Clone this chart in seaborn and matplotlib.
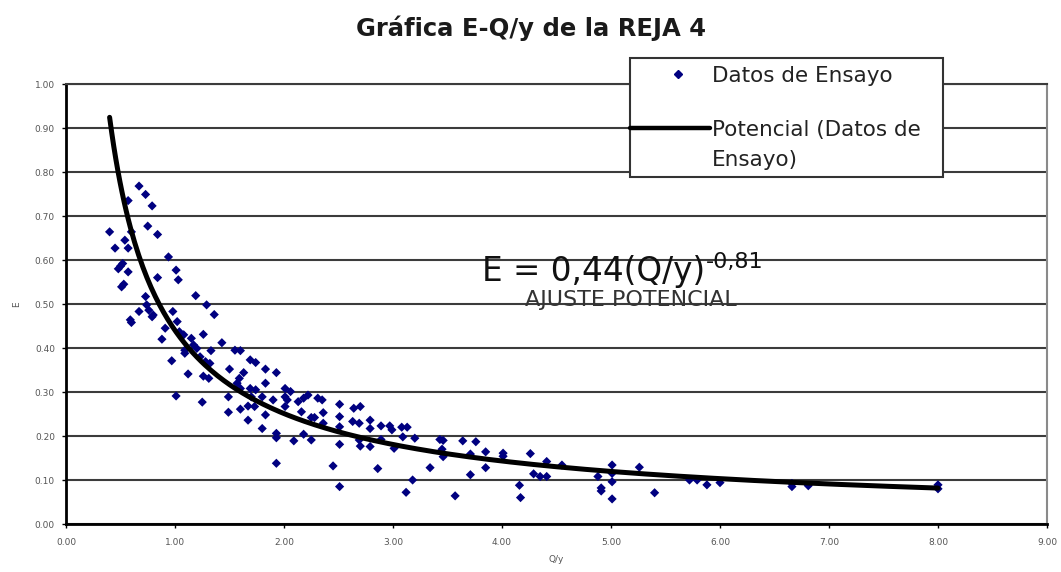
import numpy as np
import pandas as pd
import matplotlib
matplotlib.use("Agg")
import matplotlib.pyplot as plt
import seaborn as sns
from matplotlib.lines import Line2D
from matplotlib.patches import Rectangle
from matplotlib.ticker import FormatStrFormatter

# Test data: relative flow Q/y against efficiency E for screen no. 4
q_over_y = [
    0.40, 0.45, 0.48, 0.50, 0.52, 0.54, 0.57, 0.57, 0.57, 0.60,
    0.51, 0.53, 0.67, 0.73, 0.79, 0.75, 0.84, 0.94, 1.01, 1.03,
    0.84, 1.19, 1.29, 1.36, 0.73, 0.74, 0.76, 0.67, 0.80, 0.79,
    0.59, 0.60, 0.98, 1.02, 0.91, 1.04, 1.08, 1.26, 0.88, 1.15,
    1.17, 1.20, 1.09, 1.09, 1.33, 1.43, 1.23, 1.28, 1.32, 0.97,
    1.55, 1.60, 1.69, 1.74, 1.50, 1.83, 1.93, 1.12, 1.26, 1.31,
    1.63, 1.59, 1.57, 1.83, 1.60, 1.69, 1.74, 2.01, 2.06, 1.49,
    1.70, 1.80, 1.90, 2.01, 1.01, 1.25, 1.60, 1.67, 1.73, 1.49,
    1.83, 2.01, 1.67, 1.80, 1.93, 1.93, 2.09, 1.93, 2.13, 2.18,
    2.22, 2.31, 2.35, 2.16, 2.25, 2.28, 2.36, 2.36, 2.51, 2.51,
    2.51, 2.51, 2.64, 2.70, 2.63, 2.69, 2.69, 2.70, 2.79, 2.79,
    2.79, 2.89, 2.89, 2.97, 2.99, 3.08, 3.13, 3.09, 3.01, 3.20,
    2.25, 2.18, 2.45, 2.51, 2.86, 3.18, 3.12, 3.34, 3.43, 3.46,
    3.45, 3.46, 3.64, 3.76, 3.71, 3.71, 3.85, 3.85, 4.01, 4.01,
    4.26, 4.29, 4.35, 4.41, 4.41, 4.55, 4.16, 4.17, 3.57, 4.88,
    4.91, 4.91, 5.01, 5.01, 5.01, 5.01, 5.26, 5.40, 5.72, 5.79,
    5.88, 6.00, 6.66, 6.66, 6.81, 8.00, 8.00, 2.03,
]
efficiency = [
    0.664, 0.627, 0.580, 0.586, 0.592, 0.645, 0.627, 0.573, 0.735, 0.664,
    0.539, 0.545, 0.768, 0.749, 0.723, 0.677, 0.658, 0.607, 0.577, 0.555,
    0.560, 0.519, 0.498, 0.476, 0.517, 0.498, 0.486, 0.483, 0.475, 0.471,
    0.464, 0.458, 0.483, 0.460, 0.445, 0.437, 0.430, 0.431, 0.420, 0.422,
    0.407, 0.399, 0.395, 0.388, 0.394, 0.412, 0.380, 0.369, 0.365, 0.371,
    0.395, 0.394, 0.373, 0.367, 0.352, 0.352, 0.344, 0.341, 0.336, 0.331,
    0.344, 0.331, 0.320, 0.320, 0.308, 0.308, 0.305, 0.308, 0.301, 0.289,
    0.289, 0.289, 0.282, 0.289, 0.291, 0.277, 0.261, 0.268, 0.267, 0.254,
    0.248, 0.267, 0.236, 0.217, 0.206, 0.196, 0.189, 0.138, 0.278, 0.286,
    0.293, 0.286, 0.282, 0.255, 0.242, 0.242, 0.253, 0.229, 0.272, 0.244,
    0.221, 0.181, 0.263, 0.267, 0.233, 0.229, 0.191, 0.177, 0.236, 0.217,
    0.176, 0.223, 0.192, 0.223, 0.214, 0.220, 0.220, 0.198, 0.172, 0.195,
    0.191, 0.204, 0.132, 0.085, 0.126, 0.100, 0.072, 0.128, 0.192, 0.190,
    0.170, 0.153, 0.189, 0.187, 0.159, 0.112, 0.164, 0.128, 0.161, 0.154,
    0.160, 0.114, 0.108, 0.108, 0.142, 0.134, 0.088, 0.060, 0.064, 0.108,
    0.082, 0.075, 0.134, 0.115, 0.096, 0.057, 0.129, 0.071, 0.100, 0.100,
    0.089, 0.094, 0.092, 0.085, 0.087, 0.089, 0.080, 0.282,
]

# Power-law fit E = a * (Q/y)^b
coef_a = 0.44
exponent_b = -0.81

x_ticks = [0, 1, 2, 3, 4, 5, 6, 7, 8, 9]
y_ticks = [0.0, 0.1, 0.2, 0.3, 0.4, 0.5, 0.6, 0.7, 0.8, 0.9, 1.0]

title = "Gráfica E-Q/y de la REJA 4"
x_label = "Q/y"
y_label = "E"
series_label = "Datos de Ensayo"
fit_label = "Potencial (Datos de\nEnsayo)"
fit_note = "AJUSTE POTENCIAL"

sns.set_theme(style="white")
plt.rcParams["font.family"] = ["DejaVu Sans"]

W, H = 1061, 572
fig = plt.figure(figsize=(W / 100, H / 100), dpi=100)
fig.patch.set_facecolor("white")


def fx(px):
    return px / W


def fy(py):
    return 1 - py / H


ax = fig.add_axes([fx(66), fy(524), (1047 - 66) / W, (524 - 84) / H])
ax.set_facecolor("white")

data = pd.DataFrame({x_label: q_over_y, y_label: efficiency})
sns.scatterplot(data=data, x=x_label, y=y_label, marker="D", s=22,
                color="#000080", edgecolor="none", linewidth=0, ax=ax,
                zorder=3, legend=False)

q_fit = np.linspace(min(q_over_y), max(q_over_y), 400)
fit = pd.DataFrame({x_label: q_fit, y_label: coef_a * q_fit ** exponent_b})
sns.lineplot(data=fit, x=x_label, y=y_label, color="black", linewidth=3.6,
             estimator=None, sort=False, ax=ax, zorder=4, legend=False)

ax.set_xlim(0, 9)
ax.set_ylim(0, 1.0)
ax.set_xticks(x_ticks)
ax.set_yticks(y_ticks)
ax.xaxis.set_major_formatter(FormatStrFormatter("%.2f"))
ax.yaxis.set_major_formatter(FormatStrFormatter("%.2f"))
ax.yaxis.grid(True, color="#3c3c3c", linewidth=1.5)
ax.xaxis.grid(False)
ax.set_axisbelow(True)

for side in ("left", "bottom"):
    ax.spines[side].set_color("black")
    ax.spines[side].set_linewidth(2.0)
ax.spines["top"].set_color("#3c3c3c")
ax.spines["top"].set_linewidth(1.5)
ax.spines["right"].set_color("#8a8a8a")
ax.spines["right"].set_linewidth(1.5)

ax.tick_params(axis="both", which="major", direction="out", length=3,
               width=1, color="black", labelsize=6.5, labelcolor="#555555",
               left=True, bottom=True)
ax.tick_params(axis="y", pad=5)
ax.tick_params(axis="x", pad=7)
ax.set_xlabel(x_label, fontsize=6.5, color="#555555", labelpad=6)
ax.set_ylabel(y_label, fontsize=6.5, color="#555555", labelpad=10)

fig.text(0.5, fy(28), title, ha="center", va="center", fontsize=17.5,
         fontweight="bold", color="#1a1a1a")

eq_main = ax.text(3.82, 0.573,
                  "E = " + f"{coef_a:.2f}".replace(".", ",") + "(Q/y)",
                  fontsize=23.5, ha="left", va="center", color="#111111",
                  zorder=5)
ax.annotate(f"{exponent_b:.2f}".replace(".", ","), xy=(1.0, 0.80),
            xycoords=eq_main, ha="left", va="center", fontsize=16,
            color="#111111", zorder=5)
ax.text(5.18, 0.509, fit_note, fontsize=16, ha="center", va="center",
        color="#333333", zorder=5)

# Legend box with marker and line samples
fig.add_artist(Rectangle((fx(630), fy(177)), (943 - 630) / W, (177 - 58) / H,
                         transform=fig.transFigure, facecolor="white",
                         edgecolor="#333333", linewidth=1.5, zorder=6))
fig.add_artist(Line2D([fx(678)], [fy(74)], marker="D", markersize=3.8,
                      color="#000080", linestyle="none",
                      transform=fig.transFigure, zorder=7))
fig.add_artist(Line2D([fx(630), fx(710)], [fy(128), fy(128)], color="black",
                      linewidth=3.2, transform=fig.transFigure, zorder=7))
fig.text(fx(712), fy(82), series_label, fontsize=15.5, ha="left",
         va="baseline", color="#222222", zorder=8)
for i, line in enumerate(fit_label.split("\n")):
    fig.text(fx(712), fy(136 + 30 * i), line, fontsize=15.5, ha="left",
             va="baseline", color="#222222", zorder=8)

fig.savefig("out.png", dpi=100, facecolor="white")
